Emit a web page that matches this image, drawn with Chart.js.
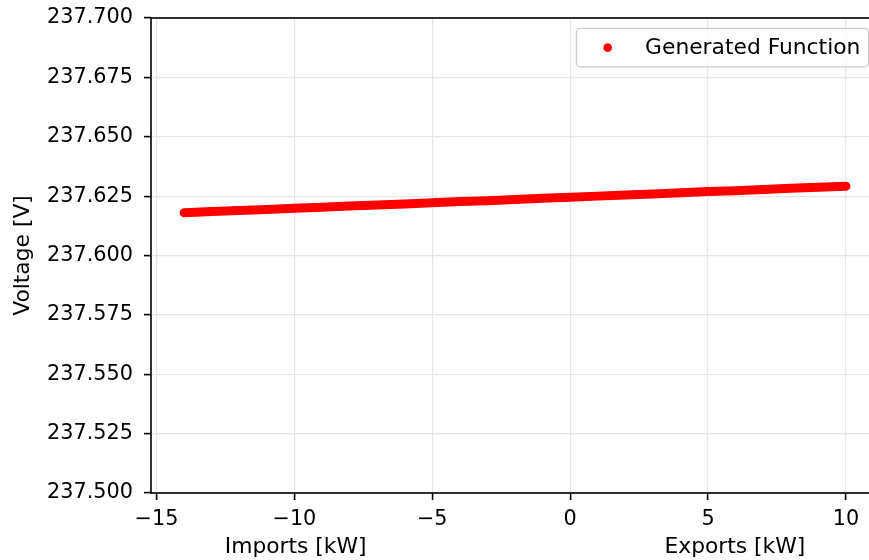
<!DOCTYPE html>
<html>
<head>
<meta charset="utf-8">
<script src="https://cdn.jsdelivr.net/npm/chart.js@4"></script>
<style>
  html, body { margin: 0; padding: 0; overflow: hidden; background: #fff; width: 869px; height: 560px; }
  #wrap { position: absolute; left: 0; top: 0; width: 880px; height: 560px; }
</style>
</head>
<body>
<div id="wrap"><canvas id="c" width="880" height="560"></canvas></div>
<script>
// Power flow (negative = imports, positive = exports) and resulting voltage
const powerKW = [-14, -13, -12, -11, -10, -9, -8, -7, -6, -5, -4, -3, -2, -1,
                 0, 1, 2, 3, 4, 5, 6, 7, 8, 9, 10];
const voltageV = [237.6180, 237.6185, 237.6189, 237.6194, 237.6199, 237.6203, 237.6208,
                  237.6213, 237.6217, 237.6222, 237.6227, 237.6231, 237.6236, 237.6241,
                  237.6245, 237.6250, 237.6255, 237.6259, 237.6264, 237.6269, 237.6273,
                  237.6278, 237.6283, 237.6287, 237.6292];

const xTicks = [-15, -10, -5, 0, 5, 10];
const yTicks = [237.500, 237.525, 237.550, 237.575, 237.600, 237.625, 237.650, 237.675, 237.700];

const seriesName = 'Generated Function';
const xLabel = 'Imports [kW]' + ' '.repeat(43) + 'Exports [kW]';
const yLabel = 'Voltage [V]';

const TICK_FONT = { family: 'DejaVu Sans', size: 20.8 };
const LABEL_FONT = { family: 'DejaVu Sans', size: 21.8 };
const RED = '#ff0000';

const fmtMinus = v => (v < 0 ? '\u2212' + Math.abs(v) : String(v));

// Full rectangular frame around the plot area
const framePlugin = {
  id: 'frame',
  afterDraw(chart) {
    const { ctx, chartArea: a } = chart;
    ctx.save();
    ctx.strokeStyle = '#000';
    ctx.lineWidth = 1.6;
    ctx.strokeRect(a.left, a.top, a.right - a.left, a.bottom - a.top);
    ctx.restore();
  }
};

// Legend box in the upper-right corner of the plot area
const legendPlugin = {
  id: 'cornerLegend',
  afterDraw(chart) {
    const { ctx, chartArea: a } = chart;
    const fs = LABEL_FONT.size;
    const em = 20.8;
    ctx.save();
    ctx.font = `${fs}px ${LABEL_FONT.family}`;
    const tw = ctx.measureText(seriesName).width;
    const w = tw + 3.6 * em + 2;
    const h = 1.85 * em;
    const right = a.right - 0.5 * em;
    const top = a.top + 0.5 * em;
    const left = right - w;
    ctx.beginPath();
    ctx.roundRect(left, top, w, h, 4);
    ctx.fillStyle = 'rgba(255,255,255,0.8)';
    ctx.fill();
    ctx.strokeStyle = '#cccccc';
    ctx.lineWidth = 1.3;
    ctx.stroke();
    const cy = top + h / 2;
    ctx.beginPath();
    ctx.arc(left + 1.5 * em, cy, 4.3, 0, Math.PI * 2);
    ctx.fillStyle = RED;
    ctx.fill();
    ctx.fillStyle = '#000';
    ctx.textBaseline = 'middle';
    ctx.textAlign = 'left';
    ctx.fillText(seriesName, left + 3.3 * em, cy + 1);
    ctx.restore();
  }
};

const gridOpts = { color: '#e6e6e6', lineWidth: 1.2, tickColor: '#000', tickLength: 7, tickWidth: 1.6 };

new Chart(document.getElementById('c'), {
  type: 'scatter',
  data: {
    datasets: [{
      label: seriesName,
      data: powerKW.map((x, i) => ({ x, y: voltageV[i] })),
      showLine: true,
      borderColor: RED,
      backgroundColor: RED,
      borderWidth: 9,
      borderCapStyle: 'round',
      borderJoinStyle: 'round',
      pointRadius: 0,
      tension: 0
    }]
  },
  options: {
    responsive: false,
    animation: false,
    devicePixelRatio: 1,
    layout: { padding: { top: 18, right: 1, left: 0, bottom: 0 } },
    plugins: { legend: { display: false }, tooltip: { enabled: false } },
    scales: {
      x: {
        type: 'linear',
        min: -15.2,
        max: 11.2,
        afterBuildTicks: s => { s.ticks = xTicks.map(v => ({ value: v })); },
        afterFit: s => { s.height = 67; s.paddingLeft = 0; s.paddingRight = 0; },
        ticks: { padding: 7, maxRotation: 0, color: '#000', font: TICK_FONT, callback: v => fmtMinus(v) },
        grid: gridOpts,
        border: { display: false },
        title: { display: true, text: xLabel, color: '#000', font: LABEL_FONT, padding: { top: 0, bottom: 0 } }
      },
      y: {
        type: 'linear',
        min: 237.5,
        max: 237.7,
        afterBuildTicks: s => { s.ticks = yTicks.map(v => ({ value: v })); },
        afterFit: s => { s.width = 151; s.paddingTop = 0; s.paddingBottom = 0; },
        ticks: { padding: 11, color: '#000', font: TICK_FONT, callback: v => Number(v).toFixed(3) },
        grid: gridOpts,
        border: { display: false },
        title: { display: true, text: yLabel, color: '#000', font: LABEL_FONT, padding: { top: 10, bottom: 0 } }
      }
    }
  },
  plugins: [framePlugin, legendPlugin]
});
</script>
</body>
</html>
